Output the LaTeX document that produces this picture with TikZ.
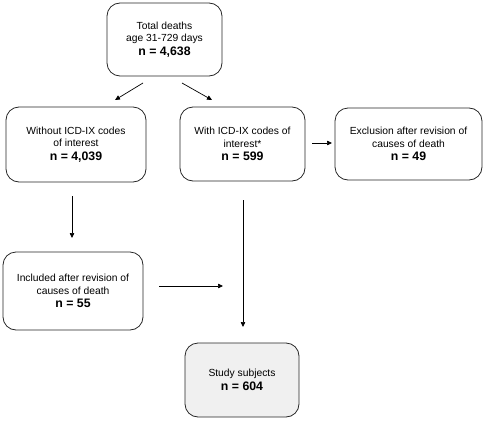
\documentclass[tikz,border=0pt]{standalone}
\usepackage{fontspec}
\setmainfont{Liberation Sans}
\usetikzlibrary{arrows.meta}
\begin{document}
\begin{tikzpicture}[x=1pt,y=-1pt,
  box/.style={draw=black!85,line width=0.8pt,rounded corners=13pt,align=center,
    font=\fontsize{10.3}{12.5}\selectfont,inner sep=2pt},
  arr/.style={line width=0.7pt,-{Triangle[length=5pt,width=4.5pt]}}]
\useasboundingbox (0,0) rectangle (484,420);
\newcommand{\nnum}[1]{{\fontsize{12.3}{14}\selectfont\bfseries #1}}
\node[box,minimum width=115pt,minimum height=73pt] (top) at (164.5,39.5)
  {Total deaths\\age 31-729 days\\[1pt]\nnum{n = 4,638}};
\node[box,minimum width=140pt,minimum height=75pt] (b1) at (76,144.5)
  {Without ICD-IX codes\\of interest\\[1pt]\nnum{n = 4,039}};
\node[box,minimum width=125pt,minimum height=74pt] (b2) at (242.5,144)
  {With ICD-IX codes of\\interest*\\[1pt]\nnum{n = 599}};
\node[box,minimum width=147pt,minimum height=72pt] (b3) at (408.5,144)
  {Exclusion after revision of\\causes of death\\[1pt]\nnum{n = 49}};
\node[box,minimum width=140pt,minimum height=78pt] (b4) at (73,291)
  {Included after revision of\\causes of death\\[1pt]\nnum{n = 55}};
\node[box,fill=black!6,minimum width=114pt,minimum height=74pt] (b5) at (242,380)
  {Study subjects\\[1pt]\nnum{n = 604}};
% connector end points
\coordinate (a1s) at (143,83);  \coordinate (a1e) at (115,100);
\coordinate (a2s) at (182,83);  \coordinate (a2e) at (212,100);
\coordinate (a3s) at (312,143); \coordinate (a3e) at (332,143);
\coordinate (a4s) at (72,196);  \coordinate (a4e) at (72,238);
\coordinate (a5s) at (159,286); \coordinate (a5e) at (223,286);
\coordinate (a6s) at (243,200); \coordinate (a6e) at (243,327);
\draw[arr] (a1s) -- (a1e);
\draw[arr] (a2s) -- (a2e);
\draw[arr] (a3s) -- (a3e);
\draw[arr] (a4s) -- (a4e);
\draw[arr] (a5s) -- (a5e);
\draw[arr] (a6s) -- (a6e);
\end{tikzpicture}
\end{document}
